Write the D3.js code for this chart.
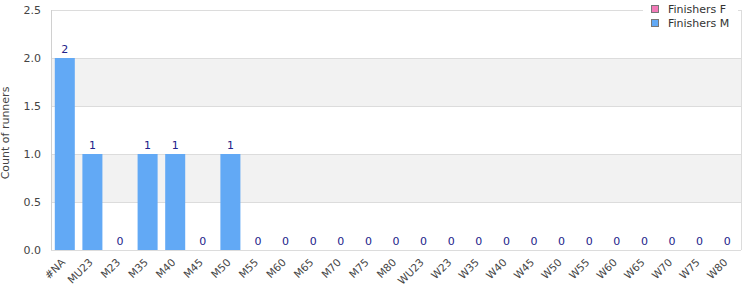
<!DOCTYPE html>
<html><head><meta charset="utf-8">
<script src="https://cdn.jsdelivr.net/npm/d3@7"></script>
<style>body{margin:0;background:#fff;font-family:"DejaVu Sans",sans-serif;}</style>
</head><body><svg id="c" width="750" height="300"></svg>
<script>
const categories = ["#NA","MU23","M23","M35","M40","M45","M50","M55","M60","M65","M70","M75","M80","WU23","W23","W35","W40","W45","W50","W55","W60","W65","W70","W75","W80"];
const finishersM = [2,1,0,1,1,0,1,0,0,0,0,0,0,0,0,0,0,0,0,0,0,0,0,0,0];
const finishersF = [0,0,0,0,0,0,0,0,0,0,0,0,0,0,0,0,0,0,0,0,0,0,0,0,0];
const yTicks = [0,0.5,1.0,1.5,2.0,2.5];
const seriesNames = ["Finishers F","Finishers M"];
const seriesColors = ["#f27ab8","#62a9f5"];

const svg = d3.select("#c");
const m = {l:51, r:741, t:10, b:250};
const x = d3.scaleBand().domain(categories).range([m.l, m.r]).paddingInner(0.275).paddingOuter(0.1375);
const y = d3.scaleLinear().domain([0,2.5]).range([m.b, m.t]);

for (let i=0;i<yTicks.length-1;i++){
  if (i%2===1) svg.append("rect").attr("x",m.l).attr("y",y(yTicks[i+1])).attr("width",m.r-m.l).attr("height",y(yTicks[i])-y(yTicks[i+1])).attr("fill","#f2f2f2");
}
svg.selectAll(".g").data(yTicks).enter().append("line")
  .attr("x1",m.l).attr("x2",m.r).attr("y1",d=>y(d)+0.5).attr("y2",d=>y(d)+0.5)
  .attr("stroke","#dcdcdc").attr("stroke-width",1);
svg.append("line").attr("x1",m.l+0.5).attr("x2",m.l+0.5).attr("y1",m.t).attr("y2",m.b).attr("stroke","#d0d0d0");
svg.append("line").attr("x1",m.r+0.5).attr("x2",m.r+0.5).attr("y1",m.t).attr("y2",m.b).attr("stroke","#dcdcdc");

svg.selectAll(".yl").data(yTicks).enter().append("text")
  .attr("x",m.l-10).attr("y",d=>y(d)+4).attr("text-anchor","end")
  .attr("font-size",11).attr("fill","#444").text(d=>d.toFixed(1));
svg.append("text").attr("transform",`translate(9,133) rotate(-90)`)
  .attr("text-anchor","middle").attr("font-size",11).attr("fill","#444").text("Count of runners");

svg.selectAll(".bar").data(categories).enter().append("rect")
  .attr("x",d=>x(d)).attr("width",x.bandwidth())
  .attr("y",(d,i)=>y(finishersM[i])).attr("height",(d,i)=>y(0)-y(finishersM[i]))
  .attr("fill",seriesColors[1]);
svg.selectAll(".vl").data(categories).enter().append("text")
  .attr("x",d=>x(d)+x.bandwidth()/2).attr("y",(d,i)=>y(finishersM[i])-5)
  .attr("text-anchor","middle").attr("font-size",11).attr("fill","#22228a")
  .text((d,i)=>finishersM[i]);
svg.selectAll(".xl").data(categories).enter().append("text")
  .attr("transform",d=>`translate(${x(d)+x.bandwidth()/2+1},${m.b+13}) rotate(-45)`)
  .attr("text-anchor","end").attr("font-size",10.5).attr("fill","#444").text(d=>d);

const lg = svg.append("g");
lg.append("rect").attr("x",643).attr("y",0).attr("width",95).attr("height",34).attr("fill","#fff");
seriesNames.forEach((n,i)=>{
  lg.append("rect").attr("x",651.5).attr("y",5.5+i*14).attr("width",7).attr("height",7)
    .attr("fill",seriesColors[i]).attr("stroke","#777");
  lg.append("text").attr("x",668).attr("y",13+i*14).attr("font-size",11).attr("fill","#333").text(n);
});
</script></body></html>
